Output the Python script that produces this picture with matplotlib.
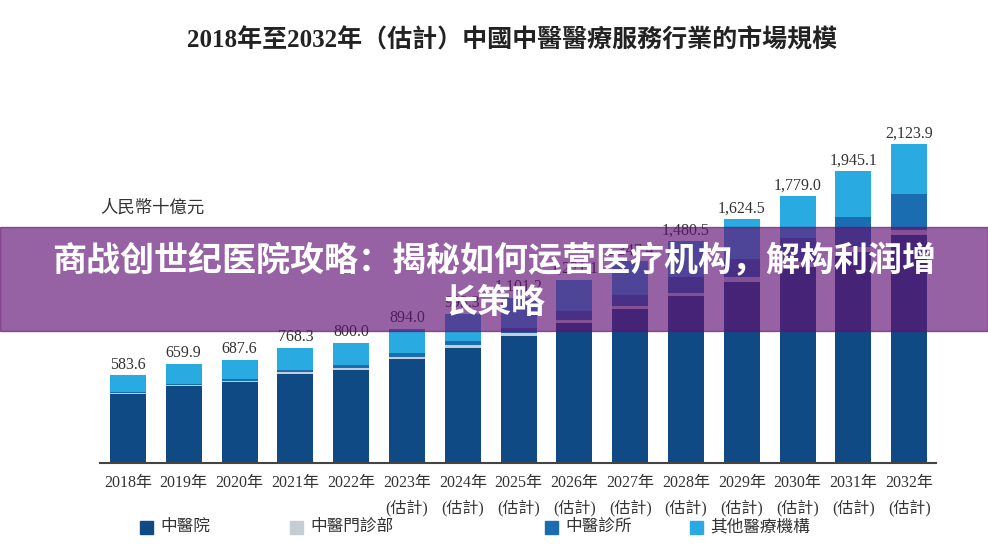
import numpy as np
import matplotlib.pyplot as plt
from matplotlib.patches import Rectangle

years = ['2018年', '2019年', '2020年', '2021年', '2022年', '2023年', '2024年', '2025年',
         '2026年', '2027年', '2028年', '2029年', '2030年', '2031年', '2032年']
est = ['', '', '', '', '', '(估計)', '(估計)', '(估計)', '(估計)', '(估計)',
       '(估計)', '(估計)', '(估計)', '(估計)', '(估計)']
totals = ['583.6', '659.9', '687.6', '768.3', '800.0', '894.0', '993.3', '1,101.2',
          '1,221.1', '1,347.4', '1,480.5', '1,624.5', '1,779.0', '1,945.1', '2,123.9']

hospital = [458, 513, 542, 595, 620, 691, 768, 847, 933, 1025, 1113, 1209, 1310, 1410, 1520]
outpatient = [11, 10, 8, 9, 13, 15, 18, 20, 18, 22, 22, 28, 30, 32, 33]
clinic = [4, 5, 11, 15, 20, 27, 27, 35, 60, 73, 105, 123, 160, 200, 240]
other = [110.6, 131.9, 126.6, 149.3, 147, 161, 180.3, 199.2, 210.1, 227.4,
         240.5, 264.5, 279, 303.1, 330.9]

names = ['中醫院', '中醫門診部', '中醫診所', '其他醫療機構']
colors = ['#0f4a84', '#c4ccd4', '#1a6db0', '#29aae1']

serif = ['Liberation Serif', 'Noto Sans CJK TC']
plt.rcParams['font.family'] = serif

fig = plt.figure(figsize=(9.88, 5.59), dpi=100)
ax = fig.add_axes([100 / 988, 96 / 559, 836 / 988, 345 / 559])

x = np.arange(len(years))
w = 0.645
bottom = np.zeros(len(years))
for vals, c in zip([hospital, outpatient, clinic, other], colors):
    ax.bar(x, vals, w, bottom=bottom, color=c, linewidth=0)
    bottom = bottom + np.array(vals)

for xi, top, lab in zip(x, bottom, totals):
    ax.text(xi, top + 18, lab, ha='center', va='bottom', fontsize=11.5, color='#333333')

ax.set_xlim(-0.5, 14.48)
ax.set_ylim(0, 2300)
for s in ['top', 'right', 'left']:
    ax.spines[s].set_visible(False)
ax.spines['bottom'].set_color('#444444')
ax.spines['bottom'].set_linewidth(1.5)
ax.set_yticks([])
ax.set_xticks(x)
ax.set_xticklabels([y + '\n' + e for y, e in zip(years, est)], fontsize=11.5,
                   color='#333333', linespacing=1.6, va='top')
ax.tick_params(axis='x', length=0, pad=9)

fig.text(512 / 988, 1 - 40 / 559, '2018年至2032年（估計）中國中醫醫療服務行業的市場規模',
         ha='center', va='center', fontsize=18, fontweight='bold', color='#222222')
fig.text(100 / 988, 1 - 208 / 559, '人民幣十億元', ha='left', va='center',
         fontsize=12.5, color='#333333')

# legend items
leg_x = [140, 290, 545, 690]
for lx, name, c in zip(leg_x, names, colors):
    fig.patches.append(Rectangle((lx / 988, 1 - 534 / 559), 13 / 988, 13 / 559,
                                 transform=fig.transFigure, color=c))
    fig.text((lx + 20) / 988, 1 - 527 / 559, name, ha='left', va='center',
             fontsize=12, color='#333333')

# overlay banner
fig.patches.append(Rectangle((0, 1 - 331 / 559), 1, 104 / 559, transform=fig.transFigure,
                             color='#621173', alpha=0.66, zorder=10))
fig.text(494 / 988, 1 - 282 / 559, '商战创世纪医院攻略：揭秘如何运营医疗机构，解构利润增\n长策略',
         ha='center', va='center', fontsize=24.5, fontweight='heavy', color='white',
         family=['Noto Sans CJK SC', 'DejaVu Sans'], linespacing=1.25, zorder=11)

fig.savefig('out.png', dpi=100)
